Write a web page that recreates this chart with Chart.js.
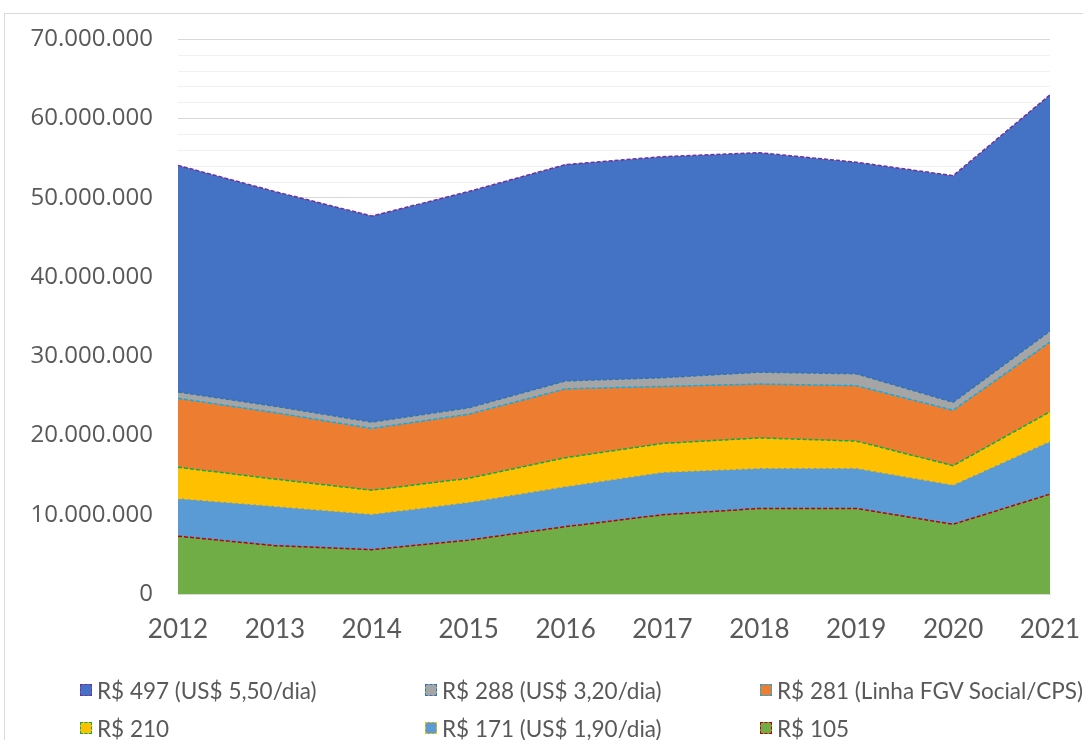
<!DOCTYPE html>
<html>
<head>
<meta charset="utf-8">
<script src="https://cdn.jsdelivr.net/npm/chart.js@4"></script>
<style>
  body { margin: 0; background: #fff; }
  #wrap { position: relative; width: 1083px; height: 740px; overflow: hidden; }
  #frame { position: absolute; left: 4px; top: 13px; right: -2px; bottom: -2px;
           border-top: 1px solid #d9d9d9; border-left: 1px solid #d9d9d9; }
  #box { position: absolute; left: 0; top: 0; width: 1083px; height: 660px; }
  #legend { position: absolute; left: 0; top: 0; width: 1083px; height: 740px; pointer-events: none;
            font-family: Lato, sans-serif; font-size: 22.5px; color: #595959; }
  .item { position: absolute; display: flex; align-items: center; white-space: nowrap; }
  .mark { width: 10px; height: 10px; margin-right: 5px; border: 1px dashed; }
</style>
</head>
<body>
<div id="wrap">
  <div id="frame"></div>
  <div id="box"><canvas id="chart"></canvas></div>
  <div id="legend"></div>
</div>
<script>
// dados
const anos = ['2012', '2013', '2014', '2015', '2016', '2017', '2018', '2019', '2020', '2021'];
const r497 = [54.1, 50.8, 47.7, 50.8, 54.2, 55.2, 55.7, 54.5, 52.8, 63.0];
const r288 = [25.5, 23.7, 21.7, 23.5, 26.9, 27.3, 28.0, 27.8, 24.2, 33.2];
const r281 = [24.7, 22.9, 20.9, 22.7, 25.9, 26.2, 26.5, 26.3, 23.2, 31.8];
const r210 = [16.0, 14.5, 13.1, 14.6, 17.2, 19.0, 19.7, 19.3, 16.2, 23.0];
const r171 = [12.1, 11.1, 10.1, 11.6, 13.6, 15.4, 15.9, 15.9, 13.8, 19.3];
const r105 = [7.3, 6.1, 5.6, 6.8, 8.5, 10.0, 10.8, 10.8, 8.8, 12.6];
const nomes = ['R$ 497 (US$ 5,50/dia)', 'R$ 288 (US$ 3,20/dia)', 'R$ 281 (Linha FGV Social/CPS)',
               'R$ 210', 'R$ 171 (US$ 1,90/dia)', 'R$ 105'];
const yMax = 70000000;
const yStep = 2000000;

const series = [r497, r288, r281, r210, r171, r105];
const fills = ['#4472C4', '#A5A5A5', '#ED7D31', '#FFC000', '#5B9BD5', '#70AD47'];
const lines = ['#7030A0', '#2E75B6', '#00B0F0', '#00B050', '#FFC000', '#C00000'];

// milhões -> número inteiro
const toNum = arr => arr.map(v => Math.round(v * 1000000));

function fmt(v) {
  return String(v).replace(/\B(?=(\d{3})+(?!\d))/g, '.');
}

const datasets = series.map((s, i) => ({
  label: nomes[i],
  data: toNum(s),
  backgroundColor: fills[i],
  borderColor: lines[i],
  borderWidth: 1.5,
  borderDash: [4, 2],
  fill: 'origin',
  pointRadius: 0,
  tension: 0,
  order: series.length - i   // maior linha desenhada primeiro (atrás)
}));

new Chart(document.getElementById('chart'), {
  type: 'line',
  data: { labels: anos, datasets: datasets },
  options: {
    responsive: true,
    maintainAspectRatio: false,
    animation: false,
    layout: { padding: { left: 0, right: 33, top: 35, bottom: 0 } },
    plugins: {
      legend: { display: false },
      tooltip: { enabled: false }
    },
    scales: {
      x: {
        offset: false,
        grid: { display: false, drawTicks: false },
        border: { color: '#d9d9d9', width: 1 },
        ticks: { color: '#595959', padding: 20, font: { family: 'Lato', size: 26 }, maxRotation: 0 },
        afterFit: s => { s.height = 66; s.paddingLeft = 0; s.paddingRight = 0; }
      },
      y: {
        min: 0,
        max: yMax,
        border: { display: false },
        grid: {
          drawTicks: false,
          color: c => (c.tick && c.tick.value % 10000000 === 0) ? '#d9d9d9' : '#f0f0f0',
          lineWidth: 1
        },
        ticks: {
          stepSize: yStep,
          autoSkip: false,
          padding: 25,
          color: '#595959',
          font: { family: 'Open Sans', size: 24 },
          callback: v => (v % 10000000 === 0 ? fmt(v) : '')
        },
        afterFit: s => { s.width = 178; }
      }
    }
  }
});

// legenda em 3 colunas
const colX = [80, 425, 760];
const rowY = [690, 728];
const leg = document.getElementById('legend');
nomes.forEach((n, i) => {
  const el = document.createElement('div');
  el.className = 'item';
  el.style.left = colX[i % 3] + 'px';
  el.style.top = (rowY[Math.floor(i / 3)] - 13) + 'px';
  el.style.height = '26px';
  const m = document.createElement('span');
  m.className = 'mark';
  m.style.background = fills[i];
  m.style.borderColor = lines[i];
  const t = document.createElement('span');
  t.textContent = n;
  el.appendChild(m);
  el.appendChild(t);
  leg.appendChild(el);
});
</script>
</body>
</html>
